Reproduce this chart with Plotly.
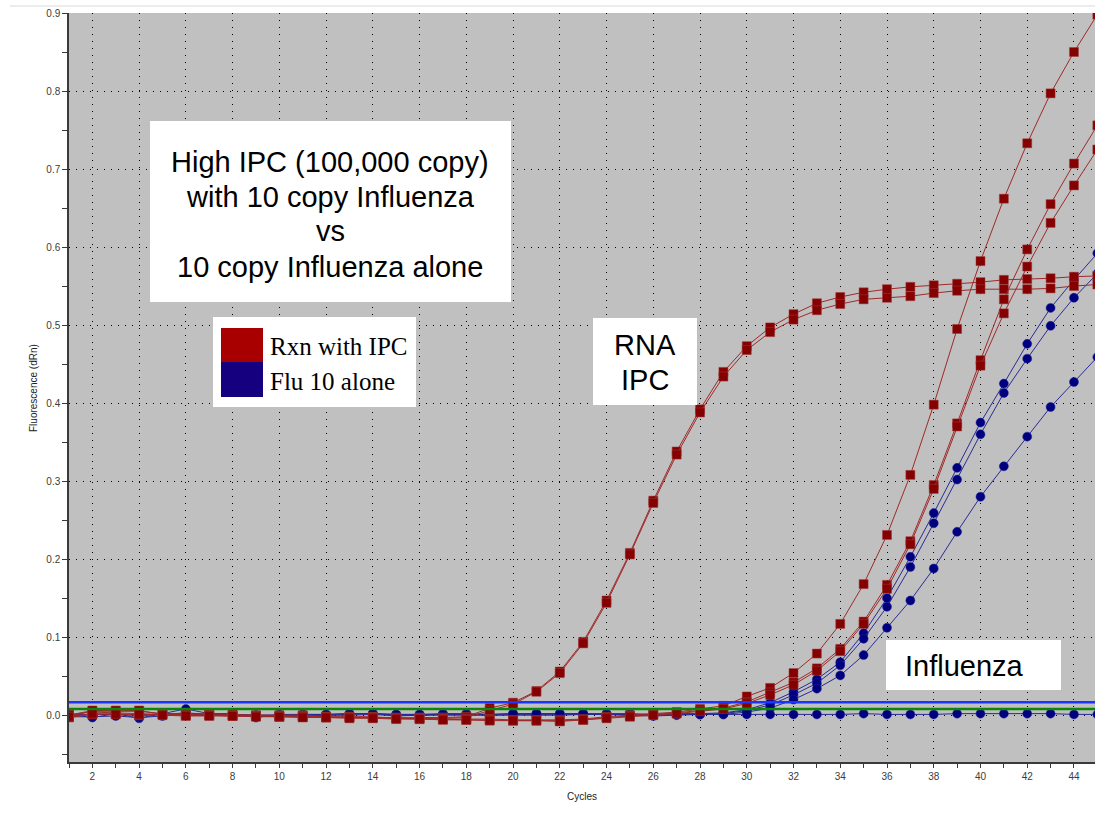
import plotly.graph_objects as go

# ---------------- data ----------------
cycles = list(range(1, 46))

ipc_a = [-0.001, 0.005, 0.005, 0.005, 0.002, 0.002, 0.001, 0.001, 0.000, 0.000,
         0.000, -0.002, -0.002, -0.002, -0.004, -0.003, -0.003, -0.002, 0.009, 0.016,
         0.031, 0.056, 0.094, 0.147, 0.208, 0.275, 0.338, 0.392, 0.440, 0.473,
         0.497, 0.514, 0.528, 0.536, 0.542, 0.546, 0.549, 0.551, 0.553, 0.555,
         0.558, 0.559, 0.560, 0.562, 0.563]
ipc_b = [-0.003, 0.001, 0.002, 0.000, 0.001, 0.000, 0.000, -0.001, -0.001, -0.002,
         -0.001, -0.003, -0.002, -0.003, -0.003, -0.004, -0.004, -0.003, 0.006, 0.014,
         0.030, 0.054, 0.092, 0.144, 0.206, 0.272, 0.334, 0.388, 0.434, 0.468,
         0.491, 0.507, 0.519, 0.527, 0.533, 0.535, 0.537, 0.541, 0.544, 0.546,
         0.546, 0.546, 0.547, 0.550, 0.552]
flu_ipc_1 = [0.001, 0.004, 0.003, 0.002, 0.001, 0.001, 0.000, 0.000, -0.001, -0.001,
             -0.002, -0.002, -0.003, -0.003, -0.004, -0.004, -0.005, -0.005, -0.005, -0.006,
             -0.006, -0.006, -0.005, -0.002, 0.000, 0.002, 0.004, 0.008, 0.012, 0.024,
             0.035, 0.054, 0.079, 0.117, 0.168, 0.231, 0.308, 0.398, 0.495, 0.582,
             0.662, 0.733, 0.797, 0.850, 0.898]
flu_ipc_2 = [0.000, 0.006, 0.006, 0.006, 0.001, 0.000, 0.000, -0.001, -0.001, -0.002,
             -0.002, -0.003, -0.003, -0.003, -0.004, -0.005, -0.005, -0.006, -0.006, -0.007,
             -0.007, -0.007, -0.006, -0.003, -0.001, 0.001, 0.003, 0.006, 0.009, 0.017,
             0.029, 0.042, 0.060, 0.085, 0.120, 0.167, 0.223, 0.295, 0.374, 0.455,
             0.533, 0.597, 0.655, 0.707, 0.756]
flu_ipc_3 = [-0.002, 0.002, 0.001, 0.001, 0.000, -0.001, -0.001, -0.001, -0.002, -0.002,
             -0.003, -0.003, -0.004, -0.004, -0.005, -0.005, -0.006, -0.006, -0.007, -0.007,
             -0.007, -0.008, -0.006, -0.004, -0.002, 0.000, 0.002, 0.005, 0.008, 0.015,
             0.026, 0.039, 0.057, 0.082, 0.117, 0.162, 0.219, 0.290, 0.370, 0.448,
             0.515, 0.575, 0.631, 0.679, 0.725]

flu_alone_1 = [0.001, -0.003, 0.002, -0.004, 0.002, 0.008, 0.002, 0.002, -0.003, 0.001,
               0.001, 0.001, 0.002, 0.002, 0.001, 0.001, 0.002, 0.002, 0.001, 0.002,
               0.002, 0.002, 0.002, 0.002, 0.002, 0.001, 0.002, 0.002, 0.003, 0.007,
               0.016, 0.030, 0.046, 0.068, 0.105, 0.150, 0.203, 0.259, 0.317, 0.375,
               0.425, 0.476, 0.522, 0.558, 0.592]
flu_alone_2 = [0.000, 0.001, 0.001, 0.000, 0.001, 0.003, 0.001, 0.001, 0.000, 0.000,
               0.000, 0.000, 0.001, 0.002, 0.000, 0.000, 0.001, 0.001, 0.000, 0.001,
               0.001, 0.001, 0.001, 0.001, 0.001, 0.000, 0.001, 0.001, 0.002, 0.006,
               0.013, 0.026, 0.041, 0.064, 0.098, 0.139, 0.190, 0.246, 0.302, 0.360,
               0.413, 0.457, 0.499, 0.535, 0.566]
flu_alone_3 = [-0.002, -0.002, -0.001, -0.003, -0.001, 0.001, 0.000, 0.000, -0.002, -0.001,
               -0.001, 0.000, 0.000, 0.001, -0.001, 0.000, 0.000, 0.000, 0.000, 0.000,
               0.000, 0.000, 0.001, 0.001, 0.000, -0.001, 0.000, 0.001, 0.001, 0.004,
               0.009, 0.020, 0.034, 0.051, 0.077, 0.112, 0.147, 0.188, 0.235, 0.280,
               0.319, 0.357, 0.395, 0.427, 0.459]
flu_alone_4 = [0.000, 0.001, 0.001, 0.000, 0.001, 0.002, 0.001, 0.001, 0.000, 0.000,
               0.001, 0.001, 0.002, 0.002, 0.001, 0.001, 0.001, 0.001, 0.001, 0.002,
               0.002, 0.002, 0.002, 0.001, 0.001, 0.000, 0.001, 0.001, 0.001, 0.001,
               0.001, 0.001, 0.001, 0.001, 0.002, 0.001, 0.001, 0.001, 0.002, 0.002,
               0.002, 0.002, 0.002, 0.001, 0.001]

red_series = [ipc_a, ipc_b, flu_ipc_1, flu_ipc_2, flu_ipc_3]
blue_series = [flu_alone_1, flu_alone_2, flu_alone_3, flu_alone_4]

threshold_blue = 0.0165
threshold_green = 0.0078

legend_labels = ["Rxn with IPC", "Flu 10 alone"]
title_lines = ["High IPC (100,000 copy)", "with 10 copy Influenza", "vs",
               "10 copy Influenza alone"]
ipc_label_lines = ["RNA", "IPC"]
flu_label = "Influenza"

# ---------------- layout geometry ----------------
W, H = 1095, 814
L, R, T, B = 69, 1095, 13, 762


def px(x):
    return (x - L) / (R - L)


def py(y):
    return (B - y) / (B - T)


RED_M = "#850000"
RED_L = "#9e2a2a"
BLUE_M = "#00007e"
BLUE_L = "#2a2a96"

fig = go.Figure()

for s in blue_series:
    fig.add_trace(go.Scatter(
        x=cycles, y=s, mode="lines+markers",
        line=dict(color=BLUE_L, width=1),
        marker=dict(symbol="circle", size=9, color=BLUE_M,
                    line=dict(color="#2020a0", width=0.5)),
        showlegend=False, hoverinfo="skip"))

for s in red_series:
    fig.add_trace(go.Scatter(
        x=cycles, y=s, mode="lines+markers",
        line=dict(color=RED_L, width=1),
        marker=dict(symbol="square", size=9, color=RED_M,
                    line=dict(color="#a03a3a", width=0.5)),
        showlegend=False, hoverinfo="skip"))

shapes = []
# threshold lines
shapes.append(dict(type="line", xref="paper", yref="y", x0=0, x1=1,
                   y0=threshold_blue, y1=threshold_blue,
                   line=dict(color="#1a35ff", width=2.5), layer="above"))
shapes.append(dict(type="line", xref="paper", yref="y", x0=0, x1=1,
                   y0=threshold_green, y1=threshold_green,
                   line=dict(color="#0b860b", width=2.5), layer="above"))
# faint top rule
shapes.append(dict(type="line", xref="paper", yref="paper",
                   x0=px(10), x1=px(1095), y0=py(6), y1=py(6),
                   line=dict(color="#ececec", width=2), layer="above"))


def box(x0, y0, x1, y1, fill="white"):
    shapes.append(dict(type="rect", xref="paper", yref="paper",
                       x0=px(x0), x1=px(x1), y0=py(y1), y1=py(y0),
                       fillcolor=fill, line=dict(width=0), layer="above"))


box(150, 121, 511, 302)          # title box
box(213, 317, 416, 407)          # legend box
box(221, 328, 263, 362, "#a80000")
box(221, 362, 263, 397, "#150080")
box(593, 318, 697, 405)          # RNA IPC box
box(886, 640, 1061, 690)         # Influenza box

annotations = []


def text(t, x, y, size, family="Liberation Sans, Arial", xanchor="center",
         angle=0, color="black"):
    annotations.append(dict(text=t, xref="paper", yref="paper",
                            x=px(x), y=py(y), xanchor=xanchor, yanchor="middle",
                            showarrow=False, textangle=angle,
                            font=dict(family=family, size=size, color=color)))


for i, line in enumerate(title_lines):
    text(line, 330, 161.5 + 35 * i, 29)
for i, line in enumerate(legend_labels):
    text(line, 268, 346 + 35 * i, 25, family="Liberation Serif, Times New Roman",
         xanchor="left")
for i, line in enumerate(ipc_label_lines):
    text(line, 645, 345 + 35 * i, 29)
text(flu_label, 964, 666, 29)

text("Fluorescence (dRn)", 33, 388, 10, angle=-90, color="#222")
text("Cycles", 582, 797, 10, color="#222")

fig.update_layout(
    width=W, height=H,
    margin=dict(l=L, r=W - R, t=T, b=H - B, pad=0),
    paper_bgcolor="white", plot_bgcolor="#c0c0c0",
    shapes=shapes, annotations=annotations,
    showlegend=False,
)

fig.update_xaxes(
    range=[1, 44.9], tickmode="linear", tick0=0, dtick=2,
    showgrid=True, gridcolor="black", gridwidth=1, griddash="1px,6px",
    zeroline=False, showline=True, linecolor="#3a3a3a", linewidth=1.5,
    ticks="outside", ticklen=4, tickcolor="#3a3a3a",
    minor=dict(dtick=1, tick0=0, ticks="outside", ticklen=4, tickcolor="#3a3a3a",
               showgrid=False),
    tickfont=dict(family="Liberation Sans, Arial", size=10, color="#3c3c3c"),
)
fig.update_yaxes(
    range=[-0.06, 0.9], tickmode="linear", tick0=0, dtick=0.1, tickformat=".1f",
    showgrid=True, gridcolor="black", gridwidth=1, griddash="1px,6px",
    zeroline=False, showline=True, linecolor="#3a3a3a", linewidth=1.5,
    ticks="outside", ticklen=5, tickcolor="#3a3a3a",
    minor=dict(dtick=0.05, tick0=0, ticks="outside", ticklen=5, tickcolor="#3a3a3a",
               showgrid=False),
    tickfont=dict(family="Liberation Sans, Arial", size=10, color="#3c3c3c"),
)

fig.write_html("out.html")
